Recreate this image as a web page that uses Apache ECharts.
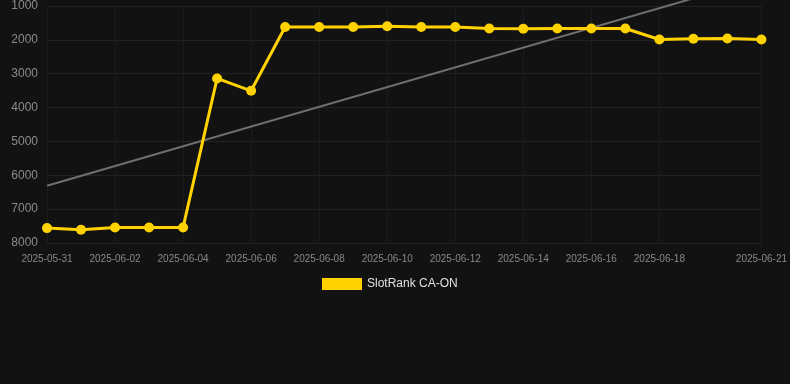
<!DOCTYPE html>
<html>
<head>
<meta charset="utf-8">
<script src="https://cdn.jsdelivr.net/npm/echarts@6/dist/echarts.min.js"></script>
<style>
html,body{margin:0;padding:0;background:#121212;}
#chart{width:790px;height:384px;}
</style>
</head>
<body>
<div id="chart"></div>
<script>
const dates = ['2025-05-31','2025-06-01','2025-06-02','2025-06-03','2025-06-04','2025-06-05','2025-06-06','2025-06-07','2025-06-08','2025-06-09','2025-06-10','2025-06-11','2025-06-12','2025-06-13','2025-06-14','2025-06-15','2025-06-16','2025-06-17','2025-06-18','2025-06-19','2025-06-20','2025-06-21'];
const rankValues = [7560,7610,7540,7540,7540,3140,3505,1620,1620,1620,1600,1620,1620,1665,1670,1665,1665,1665,1990,1965,1960,1990];
const trendStart = 6310;
const trendEnd = 190;
const seriesName = 'SlotRank CA-ON';
const yTicks = [1000,8000,1000]; // min, max, interval

const lastIdx = dates.length - 1;
const showIdx = function (i) { return (i % 2 === 0 && i !== lastIdx - 1) || i === lastIdx; };

const chart = echarts.init(document.getElementById('chart'));
chart.setOption({
  backgroundColor: '#121212',
  animation: false,
  grid: {left: 47, right: 28, top: 6, bottom: 141, containLabel: false},
  legend: {
    data: [seriesName],
    top: 273,
    left: 317,
    itemWidth: 40,
    itemHeight: 12,
    itemGap: 10,
    icon: 'rect',
    textStyle: {color: '#e0e0e0', fontSize: 12, fontFamily: 'Liberation Sans, Arial, sans-serif'}
  },
  xAxis: {
    type: 'category',
    data: dates,
    boundaryGap: false,
    axisLine: {show: false},
    axisTick: {show: false},
    axisLabel: {
      interval: function (i) { return showIdx(i); },
      color: '#888888',
      fontSize: 10,
      margin: 11,
      fontFamily: 'Liberation Sans, Arial, sans-serif'
    },
    splitLine: {
      show: true,
      interval: function (i) { return showIdx(i); },
      lineStyle: {color: '#1c1c1c', width: 1}
    }
  },
  yAxis: {
    type: 'value',
    inverse: true,
    min: yTicks[0],
    max: yTicks[1],
    interval: yTicks[2],
    axisLine: {show: false},
    axisTick: {show: false},
    axisLabel: {
      color: '#8a8a8a', fontSize: 12, margin: 9,
      fontFamily: 'Liberation Sans, Arial, sans-serif',
      formatter: function (v) { return String(v); }
    },
    splitLine: {lineStyle: {color: '#222222', width: 1}}
  },
  series: [
    {
      name: seriesName,
      type: 'line',
      data: rankValues,
      symbol: 'circle',
      symbolSize: 10,
      itemStyle: {color: '#FFD200'},
      lineStyle: {color: '#FFD200', width: 3},
      z: 3
    },
    {
      name: 'trend',
      type: 'line',
      data: [[0, trendStart], [lastIdx, trendEnd]],
      symbol: 'none',
      clip: false,
      lineStyle: {color: '#6f6f6f', width: 2},
      itemStyle: {color: '#6f6f6f'},
      silent: true,
      z: 2
    }
  ]
});
</script>
</body>
</html>
